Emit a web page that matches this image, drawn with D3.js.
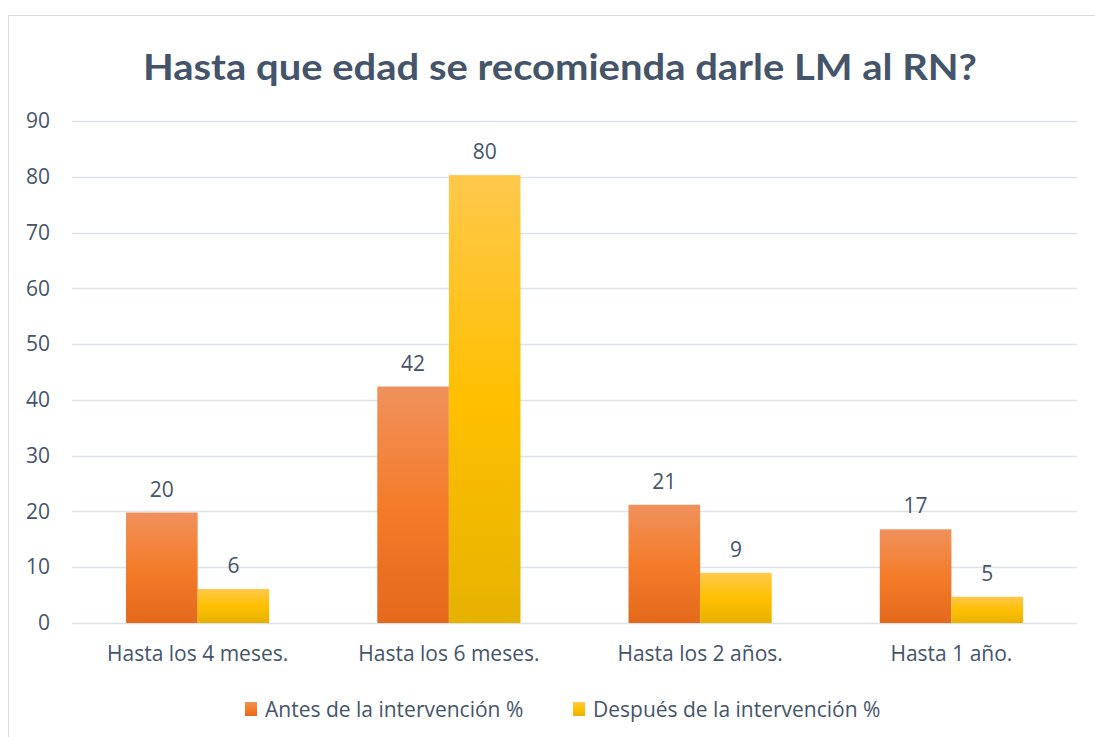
<!DOCTYPE html>
<html lang="es">
<head>
<meta charset="utf-8">
<title>Hasta que edad se recomienda darle LM al RN?</title>
<script src="https://d3js.org/d3.v7.min.js"></script>
<style>
  body { margin: 0; background: #fff; }
  svg text { font-family: "Open Sans", Lato, sans-serif; fill: #44546a; }
</style>
</head>
<body>
<svg id="chart"></svg>
<script>
// data
var categories = ["Hasta los 4 meses.", "Hasta los 6 meses.", "Hasta los 2 años.", "Hasta 1 año."];
var antes = [19.8, 42.4, 21.2, 16.8];
var despues = [6.1, 80.3, 9.0, 4.7];
var seriesNames = ["Antes de la intervención %", "Después de la intervención %"];
var yTicks = [0, 10, 20, 30, 40, 50, 60, 70, 80, 90];

var width = 1095, height = 737;
var margin = {top: 121, right: 18, bottom: 114, left: 72};
var font = "'Open Sans', Lato, sans-serif";

var svg = d3.select("#chart").attr("width", width).attr("height", height);

// gradients
var defs = svg.append("defs");
function grad(id, stops) {
  var g = defs.append("linearGradient").attr("id", id)
    .attr("x1", 0).attr("y1", 0).attr("x2", 0).attr("y2", 1);
  stops.forEach(function(s) {
    g.append("stop").attr("offset", s[0]).attr("stop-color", s[1]);
  });
}
grad("gOrange", [[0, "#f0915c"], [0.5, "#f47c2a"], [1, "#e4691c"]]);
grad("gYellow", [[0, "#ffc84c"], [0.5, "#ffc000"], [1, "#e6b200"]]);
var fills = ["url(#gOrange)", "url(#gYellow)"];

// chart border
svg.append("rect")
  .attr("x", 8.5).attr("y", 15.5)
  .attr("width", width + 20).attr("height", height + 20)
  .attr("fill", "none").attr("stroke", "#d9dde3");

// title
svg.append("text")
  .attr("x", 560).attr("y", 80)
  .attr("text-anchor", "middle")
  .attr("font-size", 37).attr("font-weight", "bold")
  .style("font-family", "Lato, 'Open Sans', sans-serif")
  .attr("textLength", 834).attr("lengthAdjust", "spacingAndGlyphs")
  .text("Hasta que edad se recomienda darle LM al RN?");

var x0 = d3.scaleBand()
  .domain(categories)
  .range([margin.left, width - margin.right])
  .paddingInner(0.43).paddingOuter(0.215);

var x1 = d3.scaleBand()
  .domain([0, 1])
  .range([0, x0.bandwidth()]);

var y = d3.scaleLinear()
  .domain([0, 90])
  .range([height - margin.bottom, margin.top]);

// grid lines
svg.append("g")
  .selectAll("line").data(yTicks).join("line")
  .attr("x1", margin.left).attr("x2", width - margin.right)
  .attr("y1", function(d) { return Math.round(y(d)) + 0.5; })
  .attr("y2", function(d) { return Math.round(y(d)) + 0.5; })
  .attr("stroke", "#dde1e8").attr("stroke-width", 1.3);

// y axis labels
var yAxis = svg.append("g")
  .attr("transform", "translate(" + (margin.left - 22) + ",0)")
  .call(d3.axisLeft(y).tickValues(yTicks).tickSize(0).tickPadding(0));
yAxis.select(".domain").remove();
yAxis.selectAll("text")
  .attr("font-size", 21).attr("fill", "#44546a")
  .style("font-family", font);

// bars
var rows = categories.map(function(c, i) { return {cat: c, vals: [antes[i], despues[i]]}; });

var group = svg.append("g").selectAll("g").data(rows).join("g")
  .attr("transform", function(d) { return "translate(" + x0(d.cat) + ",0)"; });

group.selectAll("rect")
  .data(function(d) { return d.vals.map(function(v, k) { return {k: k, v: v}; }); })
  .join("rect")
  .attr("x", function(d) { return x1(d.k); })
  .attr("y", function(d) { return y(d.v); })
  .attr("width", x1.bandwidth())
  .attr("height", function(d) { return y(0) - y(d.v); })
  .attr("fill", function(d) { return fills[d.k]; });

group.selectAll("text.val")
  .data(function(d) { return d.vals.map(function(v, k) { return {k: k, v: v}; }); })
  .join("text").attr("class", "val")
  .attr("x", function(d) { return x1(d.k) + x1.bandwidth() / 2; })
  .attr("y", function(d) { return y(d.v) - 16; })
  .attr("text-anchor", "middle")
  .attr("font-size", 21)
  .text(function(d) { return d3.format(".0f")(d.v); });

// category labels
var xAxis = svg.append("g")
  .attr("transform", "translate(0," + (height - margin.bottom) + ")")
  .call(d3.axisBottom(x0).tickSize(0).tickPadding(23));
xAxis.select(".domain").remove();
xAxis.selectAll("text")
  .attr("font-size", 21).attr("fill", "#44546a")
  .style("font-family", font);

// legend
var legendX = [245, 573];
var legend = svg.append("g").selectAll("g").data(seriesNames).join("g")
  .attr("transform", function(d, i) { return "translate(" + legendX[i] + ",702)"; });
legend.append("rect")
  .attr("width", 12).attr("height", 14)
  .attr("fill", function(d, i) { return fills[i]; });
legend.append("text")
  .attr("x", 20).attr("y", 15)
  .attr("font-size", 21)
  .text(function(d) { return d; });
</script>
</body>
</html>
